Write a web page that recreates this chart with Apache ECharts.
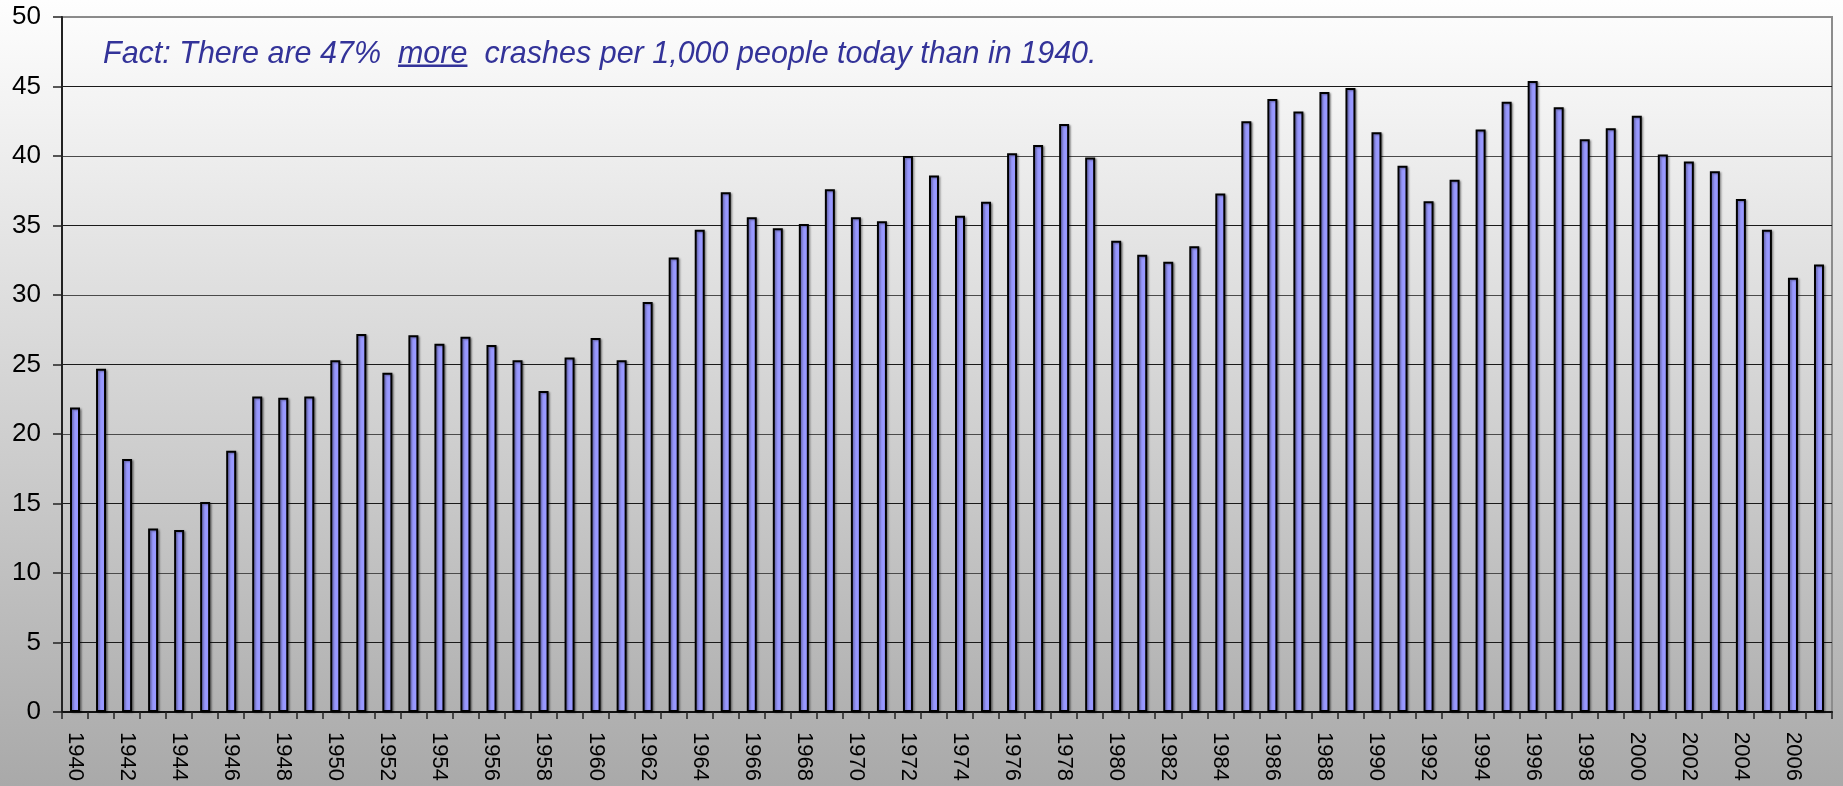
<!DOCTYPE html>
<html>
<head>
<meta charset="utf-8">
<script src="https://cdn.jsdelivr.net/npm/echarts@6/dist/echarts.min.js"></script>
<style>
html,body{margin:0;padding:0;}
#chart{width:1843px;height:786px;background:linear-gradient(to bottom,#fefefe 0%,#f4f4f4 12%,#a9a9a9 100%);}
</style>
</head>
<body>
<div id="chart"></div>
<script>
const years = [];
for (let y = 1940; y <= 2007; y++) years.push(String(y));

const crashesPer1000 = [
  21.9, 24.7, 18.2, 13.2, 13.1, 15.1, 18.8, 22.7, 22.6, 22.7,
  25.3, 27.2, 24.4, 27.1, 26.5, 27.0, 26.4, 25.3, 23.1, 25.5,
  26.9, 25.3, 29.5, 32.7, 34.7, 37.4, 35.6, 34.8, 35.1, 37.6,
  35.6, 35.3, 40.0, 38.6, 35.7, 36.7, 40.2, 40.8, 42.3, 39.9,
  33.9, 32.9, 32.4, 33.5, 37.3, 42.5, 44.1, 43.2, 44.6, 44.9,
  41.7, 39.3, 36.75, 38.3, 41.9, 43.9, 45.4, 43.5, 41.2, 42.0,
  42.9, 40.1, 39.6, 38.9, 36.9, 34.7, 31.25, 32.2
];

const yTicks = [0, 5, 10, 15, 20, 25, 30, 35, 40, 45, 50];

const factPrefix = 'Fact: There are 47%  ';
const factEmph = 'more';
const factSuffix = '  crashes per 1,000 people today than in 1940.';

const factFont = 'italic 30.5px "Liberation Sans", Arial, sans-serif';
const ctx = document.createElement('canvas').getContext('2d');
ctx.font = factFont;
const wPrefix = ctx.measureText(factPrefix).width;
const wEmph = ctx.measureText(factEmph).width;
const textX = 103;

const chart = echarts.init(document.getElementById('chart'), null, {renderer: 'canvas'});

const splitColors = yTicks.map((v, i) =>
  i === yTicks.length - 1 ? '#8a8a8a' : (i % 2 === 0 ? '#4a4a4a' : '#1a1a1a'));

chart.setOption({
  backgroundColor: 'transparent',
  animation: false,
  grid: {
    left: 62, right: 11, top: 17, bottom: 74,
    show: true, borderColor: '#8c8c8c', borderWidth: 2, backgroundColor: 'transparent'
  },
  xAxis: {
    type: 'category',
    data: years,
    boundaryGap: true,
    axisLine: {show: true, lineStyle: {color: '#111', width: 2}},
    axisTick: {show: true, interval: 0, length: 7, lineStyle: {color: '#222', width: 1.5}},
    axisLabel: {
      interval: 1, rotate: -90, margin: 20,
      fontFamily: '"Liberation Sans", Arial, sans-serif', fontSize: 22, color: '#000'
    },
    splitLine: {show: false}
  },
  yAxis: {
    type: 'value',
    min: 0, max: 50, interval: 5,
    axisLine: {show: true, lineStyle: {color: '#222', width: 2}},
    axisTick: {show: true, length: 9, lineStyle: {color: '#222', width: 1.5}},
    axisLabel: {
      margin: 21, fontFamily: '"Liberation Sans", Arial, sans-serif', fontSize: 26, color: '#000'
    },
    splitLine: {show: true, lineStyle: {color: splitColors, width: 1.2}}
  },
  series: [{
    type: 'bar',
    data: crashesPer1000,
    barWidth: 10,
    itemStyle: {
      color: '#9999ff',
      borderColor: '#000',
      borderWidth: 2,
      shadowColor: 'rgba(0,0,0,0.35)',
      shadowOffsetX: 1.5,
      shadowOffsetY: 1,
      shadowBlur: 2
    },
    z: 3
  }],
  graphic: [
    {
      type: 'text', left: textX, top: 40, z: 10,
      style: {
        text: factPrefix + factEmph + factSuffix,
        font: factFont,
        fill: '#333399'
      }
    },
    {
      type: 'rect', z: 10,
      shape: {x: textX + wPrefix, y: 64.5, width: wEmph, height: 2.5},
      style: {fill: '#333399'}
    }
  ]
});
</script>
</body>
</html>
